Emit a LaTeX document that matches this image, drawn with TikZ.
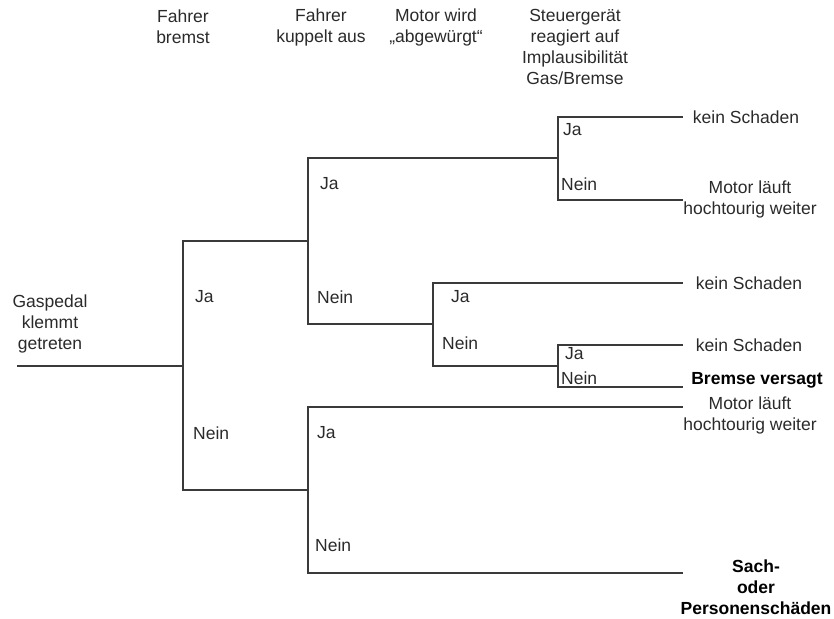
\documentclass[tikz,border=0pt]{standalone}
\usepackage{fontspec}
\setmainfont{Liberation Sans}
\usetikzlibrary{positioning}
\definecolor{LineGray}{HTML}{3A3A3A}
\definecolor{TextGray}{HTML}{2A2A2A}

\begin{document}
\begin{tikzpicture}[x=1pt, y=-1pt,
  lbl/.style={font=\fontsize{17.5}{21}\selectfont, text=TextGray, align=center, inner sep=0pt},
  ans/.style={lbl, anchor=west},
  res/.style={lbl},
  bres/.style={lbl, font=\fontsize{17.5}{21}\selectfont\bfseries, text=black},
  branch/.style={draw=LineGray, line width=1.2pt}
]
\useasboundingbox (0,0) rectangle (834,618);

% column headings
\node[lbl] (hBremst) at (183,27) {Fahrer\\bremst};
\node[lbl] (hKuppelt) at (321,27) {Fahrer\\kuppelt aus};
\node[lbl] (hMotor) at (436,27) {Motor wird\\„abgewürgt“};
\node[lbl] (hSteuer) at (575,47) {Steuergerät\\reagiert auf\\Implausibilität\\Gas/Bremse};

\node[lbl] (start) at (50,324) {Gaspedal\\klemmt\\getreten};

% branch points
\coordinate (s0) at (17,366);
\coordinate (k0) at (183,366);
\coordinate (k1) at (308,241);
\coordinate (k2) at (308,490);
\coordinate (k3) at (558,158);
\coordinate (k4) at (433,324);
\coordinate (k5) at (558,366);
\coordinate (e1) at (683,117);
\coordinate (e2) at (683,200);
\coordinate (e3) at (683,283);
\coordinate (e4) at (683,345);
\coordinate (e5) at (683,387);
\coordinate (e6) at (683,407);
\coordinate (e7) at (683,573);

\draw[branch] (s0) -- (k0);
\draw[branch] (k0) |- (k1);
\draw[branch] (k0) |- (k2);
\draw[branch] (k1) |- (k3);
\draw[branch] (k1) |- (k4);
\draw[branch] (k3) |- (e1);
\draw[branch] (k3) |- (e2);
\draw[branch] (k4) |- (e3);
\draw[branch] (k4) |- (k5);
\draw[branch] (k5) |- (e4);
\draw[branch] (k5) |- (e5);
\draw[branch] (k2) |- (e6);
\draw[branch] (k2) |- (e7);

% answers
\node[ans] (a1) at (195,297) {Ja};
\node[ans] (a2) at (193,433) {Nein};
\node[ans] (a3) at (320,184) {Ja};
\node[ans] (a4) at (317,297) {Nein};
\node[ans] (a5) at (563,130) {Ja};
\node[ans] (a6) at (561,184) {Nein};
\node[ans] (a7) at (451,297) {Ja};
\node[ans] (a8) at (442,343) {Nein};
\node[ans] (a9) at (565,354) {Ja};
\node[ans] (a10) at (561,378) {Nein};
\node[ans] (a11) at (317,433) {Ja};
\node[ans] (a12) at (315,545) {Nein};

% outcomes
\node[res] (r1) at (746,117) {kein Schaden};
\node[res] (r2) at (750,199) {Motor läuft\\hochtourig weiter};
\node[res] (r3) at (749,283) {kein Schaden};
\node[res] (r4) at (749,345) {kein Schaden};
\node[bres] (r5) at (757,380) {Bremse versagt};
\node[res] (r6) at (750,415) {Motor läuft\\hochtourig weiter};
\node[bres] (r7) at (756,587) {Sach-\\oder\\Personenschäden};
\end{tikzpicture}
\end{document}
